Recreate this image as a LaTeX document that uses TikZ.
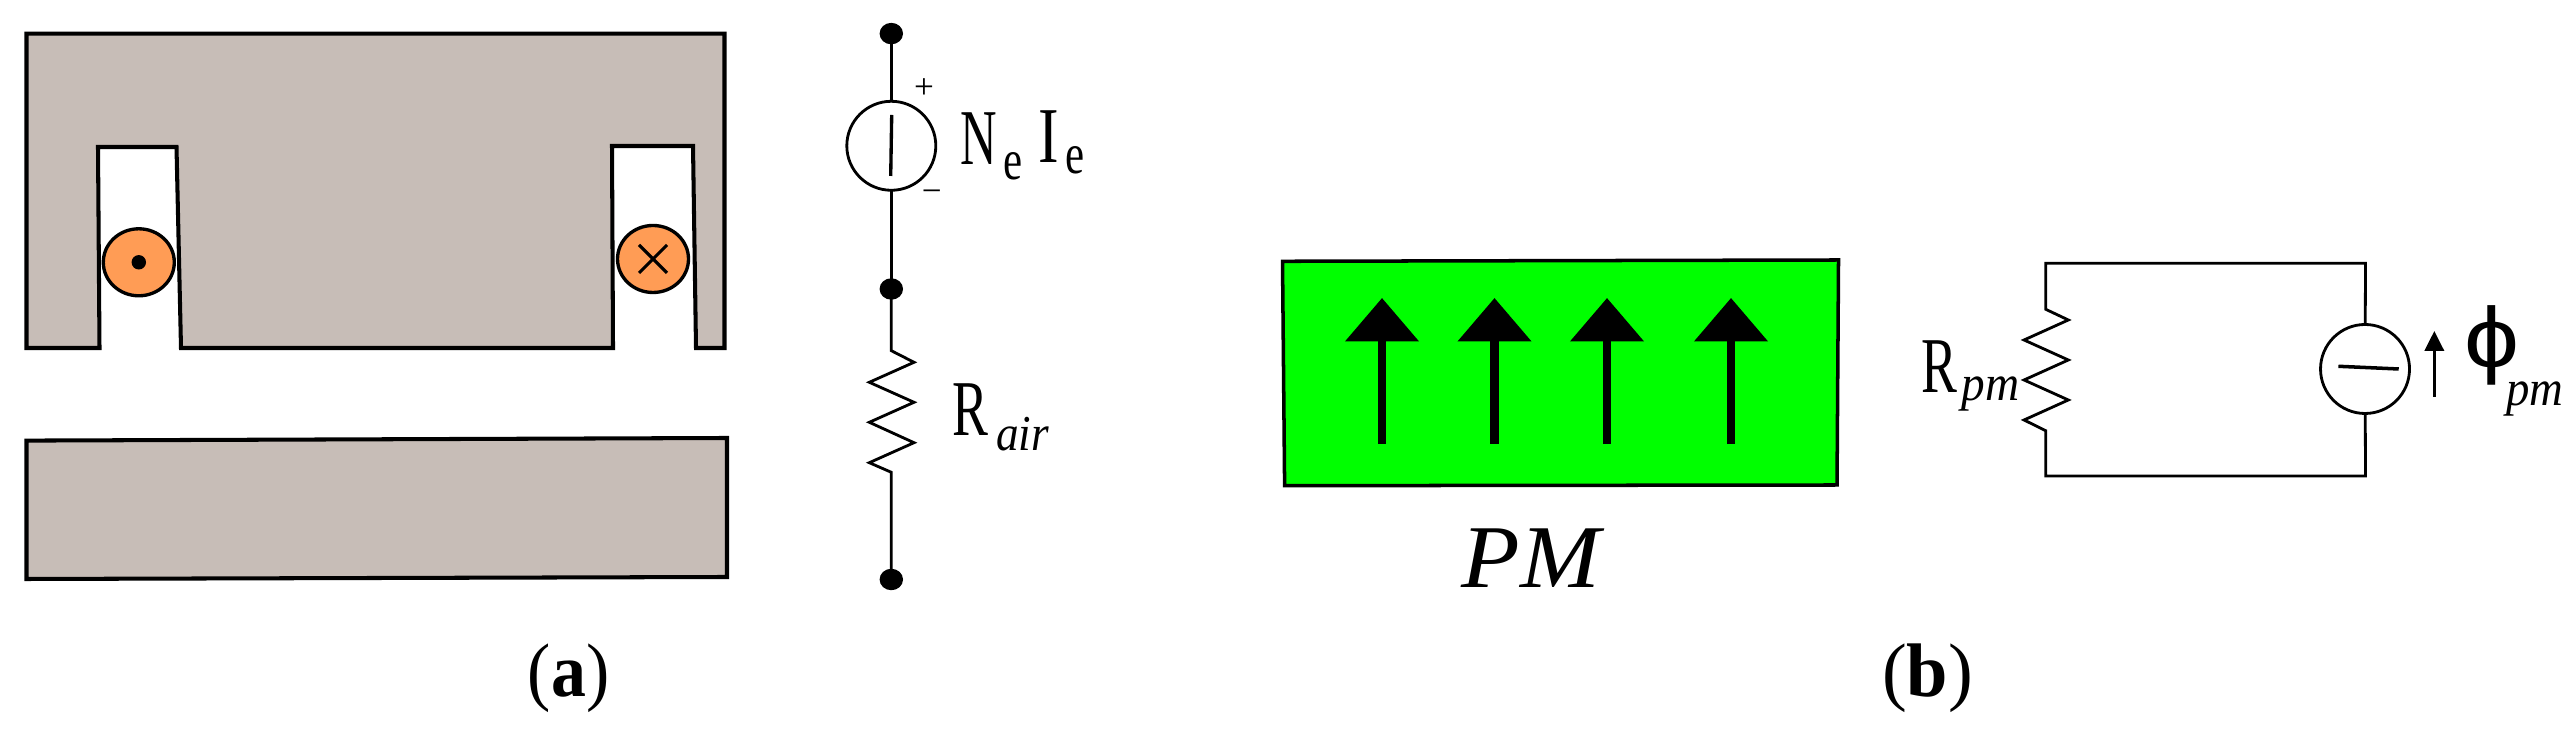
\documentclass[tikz,border=0pt]{standalone}
\usepackage{graphicx}
\usepackage{fontspec}
\setmainfont{Liberation Serif}
\newfontfamily\phifont{Liberation Sans}
\usetikzlibrary{arrows.meta,shapes.geometric}
\definecolor{coreGray}{HTML}{C7BDB7}
\definecolor{coilOrange}{HTML}{FF9C55}
\definecolor{pmGreen}{HTML}{00FF00}
\newcommand{\slimtext}[2]{\scalebox{#1}[1]{#2}}
\newcommand{\lowtext}[3]{\raisebox{#1}{\scalebox{#2}[1]{#3}}}
\newcommand{\subup}{\fontsize{16.3}{18}\selectfont}
\newcommand{\subit}{\fontsize{14.3}{16}\selectfont\itshape}
\begin{document}
\begin{tikzpicture}[inner sep=0pt,outer sep=0pt,
coreline/.style={draw=black,fill=coreGray,line width=1.15pt,line join=miter},
coil/.style={draw,ellipse,fill=coilOrange,minimum width=.71cm,minimum height=.67cm,line width=.95pt},
terminal/.style={draw,ellipse,fill=black,minimum width=.22cm,minimum height=.2cm},
source/.style={draw,circle,minimum size=.89cm,line width=.8pt},
wire/.style={line width=.8pt},
pmarrow/.style={line width=2.5pt,-{Triangle[width=.72cm,length=.435cm]}},
txtlabel/.style={anchor=base west,font=\fontsize{22.5}{24}\selectfont},
signlabel/.style={font=\fontsize{10}{12}\selectfont},
figlabel/.style={anchor=base,font=\fontsize{21.6}{24}\selectfont}]
\useasboundingbox (0,0) rectangle (25.76,7.31);

% core and slots
\draw[coreline] (.265,6.974) -- (7.245,6.974) -- (7.245,3.83) -- (6.96,3.83) -- (6.93,5.85) -- (6.12,5.85) -- (6.13,3.83) -- (1.81,3.83) -- (1.765,5.84) -- (.98,5.84) -- (.995,3.83) -- (.265,3.83) -- cycle;
\draw[coreline] (.265,2.904) -- (7.27,2.93) -- (7.27,1.54) -- (.265,1.52) -- cycle;

\draw (1.388,4.687) node[coil] (coilL) {};
\draw (6.53,4.72) node[coil] (coilR) {};
\draw (coilL) node[draw,circle,fill=black,minimum size=.13cm] (coilDot) {};
\draw[line width=.9pt] (coilR) ++(-.14,-.14) -- ++(.28,.28);
\draw[line width=.9pt] (coilR) ++(-.14,.14) -- ++(.28,-.28);

% first circuit
\draw (8.913,6.974) node[terminal] (t1) {};
\draw (8.913,5.852) node[source] (Ne) {};
\draw (8.913,4.42) node[terminal] (t2) {};
\draw (8.913,1.515) node[terminal] (t3) {};
\coordinate (rzTop) at (8.913,3.803);
\coordinate (rzEnd) at (8.913,2.587);
\draw[wire] (t1) -- (Ne);
\draw[wire] (Ne) -- (t2);
\draw[wire] (t2) -- (rzTop) -- (9.14,3.687) -- (8.693,3.487) -- (9.14,3.287) -- (8.693,3.087) -- (9.14,2.883) -- (8.693,2.683) -- (rzEnd) -- (t3);
\draw[line width=.95pt] (8.917,6.16) -- (8.907,5.55);
\draw (9.24,6.42) node[signlabel] (plus) {+};
\draw (9.317,5.35) node[signlabel] (minus) {−};
\draw (9.60,5.66) node[txtlabel] (NeIe) {\slimtext{.64}{N}\hspace{2.1pt}\lowtext{-4pt}{.75}{\subup e}\hspace{4.3pt}\lowtext{.75pt}{.78}{I}\hspace{2pt}\lowtext{-2.4pt}{.75}{\subup e}};
\draw (9.525,2.95) node[txtlabel] (Rair) {\slimtext{.68}{R}\hspace{2.2pt}\lowtext{-4.2pt}{.9}{\subit air}};

% magnet
\draw[draw=black,fill=pmGreen,line width=1pt] (12.825,4.697) -- (18.385,4.71) -- (18.37,2.46) -- (12.846,2.453) -- cycle;
\foreach \x/\n in {13.82/a,14.945/b,16.07/c,17.31/d}{
\coordinate (pmS\n) at (\x,2.87);
\coordinate (pmT\n) at (\x,4.33);
\draw[pmarrow] (pmS\n) -- (pmT\n);
}
\draw (15.31,1.43) node[anchor=base] (pmname) {\fontsize{25.5}{28}\selectfont\slimtext{1.07}{\itshape PM}};

% second circuit
\coordinate (tl) at (20.457,4.677);
\coordinate (bl) at (20.457,2.55);
\coordinate (tr) at (23.655,4.677);
\coordinate (br) at (23.655,2.55);
\draw (23.65,3.62) node[source] (flux) {};
\draw[wire] (flux) -- (tr) -- (tl) -- (20.457,4.217) -- (20.683,4.11) -- (20.24,3.91) -- (20.683,3.71) -- (20.24,3.51) -- (20.683,3.31) -- (20.24,3.11) -- (20.457,3.003) -- (bl) -- (br) -- (flux);
\draw[line width=1pt] (23.384,3.647) -- (23.987,3.62);
\coordinate (fluxS) at (24.343,3.343);
\coordinate (fluxT) at (24.343,4.00);
\draw[line width=.8pt,-{Triangle[width=.193cm,length=.2cm]}] (fluxS) -- (fluxT);
\draw (19.21,3.383) node[txtlabel] (Rpm) {\slimtext{.68}{R}\hspace{1.4pt}\lowtext{-2.3pt}{.94}{\subit pm}};
\draw (24.64,3.25) node[txtlabel] (phipm) {\rlap{\raisebox{11pt}{\scalebox{1.15}[1]{\phifont\fontsize{24.3}{26}\selectfont ϕ}}}\hspace{12.1pt}\lowtext{0pt}{.93}{\subit pm}};

% captions
\draw (5.686,.34) node[figlabel] (capA) {\slimtext{.92}{(\textbf{a})}};
\draw (19.275,.34) node[figlabel] (capB) {\slimtext{.98}{(\textbf{b})}};
\end{tikzpicture}
\end{document}
